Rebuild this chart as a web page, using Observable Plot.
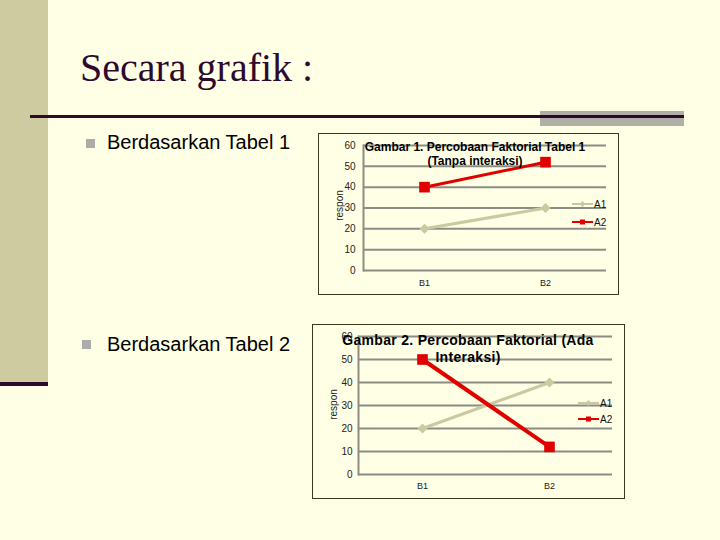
<!DOCTYPE html>
<html>
<head>
<meta charset="utf-8">
<script src="https://cdn.jsdelivr.net/npm/d3@7"></script>
<script src="https://cdn.jsdelivr.net/npm/@observablehq/plot@0.6"></script>
<style>
  html, body { margin: 0; padding: 0; background: #ffffe5; }
  #slide { position: relative; width: 720px; height: 540px; background: #ffffe5; overflow: hidden; font-family: "Liberation Sans", Arial, sans-serif; }
  .abs { position: absolute; }
  .bullet { position: absolute; width: 9px; height: 9px; background: #acacac; }
  .btext { position: absolute; font-size: 20px; color: #000; white-space: nowrap; line-height: 1; }
  .box { position: absolute; border: 1px solid #3a3a1e; box-sizing: border-box; pointer-events: none; }
  .ctitle { position: absolute; font-weight: bold; color: #000; text-align: center; white-space: nowrap; line-height: 1.2; }
  .ylab { position: absolute; font-size: 10px; color: #222; transform: rotate(-90deg); transform-origin: center; white-space: nowrap; }
  .leg { position: absolute; font-size: 10px; color: #111; }
</style>
</head>
<body>
<div id="slide">
  <div class="abs" style="left:0;top:0;width:48px;height:382px;background:#cdcb9f;"></div>
  <div class="abs" style="left:0;top:382px;width:48px;height:4px;background:#2b0a2b;"></div>
  <div class="abs" style="left:80px;top:44px;font-family:'Liberation Serif','Times New Roman',serif;font-size:40px;color:#2d0a2d;white-space:nowrap;line-height:1.2;">Secara grafik :</div>
  <div class="abs" style="left:540px;top:111px;width:144px;height:15px;background:#b0b0a6;"></div>
  <div class="abs" style="left:30px;top:115px;width:654px;height:3px;background:#2b0a2b;"></div>

  <div class="bullet" style="left:86px;top:139px;"></div>
  <div class="btext" style="left:107px;top:132px;">Berdasarkan Tabel 1</div>
  <div class="bullet" style="left:82px;top:340px;"></div>
  <div class="btext" style="left:107px;top:334px;">Berdasarkan Tabel 2</div>

  <div id="chart1" class="abs" style="left:318px;top:133px;"></div>
  <div class="box" style="left:318px;top:133px;width:301px;height:162px;"></div>
  <div class="ctitle" style="left:363px;top:140px;width:224px;font-size:12px;">Gambar 1. Percobaan Faktorial Tabel 1<br>(Tanpa interaksi)</div>
  <div class="ylab" style="left:322px;top:200px;width:34px;text-align:center;">respon</div>
  <div id="leg1" class="abs" style="left:570px;top:196px;"></div>

  <div id="chart2" class="abs" style="left:312px;top:324px;"></div>
  <div class="box" style="left:312px;top:324px;width:313px;height:175px;"></div>
  <div class="ctitle" style="left:338px;top:332px;width:260px;font-size:14px;letter-spacing:0.3px;">Gambar 2. Percobaan Faktorial (Ada<br>Interaksi)</div>
  <div class="ylab" style="left:316px;top:399px;width:34px;text-align:center;">respon</div>
  <div id="leg2" class="abs" style="left:576px;top:395px;"></div>
</div>
<script>
// ---- data ----
const categories = ["B1", "B2"];
const seriesNames = ["A1", "A2"];
const chart1A1 = [20, 30];
const chart1A2 = [40, 52];
const chart2A1 = [20, 40];
const chart2A2 = [50, 12];
const yTicks = [0, 10, 20, 30, 40, 50, 60];

const colorA1 = "#c9c9a2";
const colorA2 = "#e00000";
const gridColor = "#8c8c84";

function rows(name, values) {
  return categories.map((c, i) => ({series: name, cat: c, value: values[i]}));
}

function makeChart(a1, a2, opts) {
  const d1 = rows(seriesNames[0], a1);
  const d2 = rows(seriesNames[1], a2);
  return Plot.plot({
    width: opts.width,
    height: opts.height,
    marginLeft: opts.ml,
    marginRight: opts.mr,
    marginTop: opts.mt,
    marginBottom: opts.mb,
    style: {background: "transparent", fontFamily: "Liberation Sans, Arial, sans-serif", overflow: "visible"},
    x: {type: "point", domain: categories, padding: 0.5, label: null},
    y: {domain: [0, 60], label: null},
    marks: [
      Plot.ruleY(yTicks, {stroke: gridColor, strokeWidth: 2}),
      Plot.frame({anchor: "left", stroke: gridColor, strokeWidth: 2}),
      Plot.axisY({ticks: yTicks, tickSize: 0, tickPadding: opts.yPad, fontSize: 10, fill: "#222", label: null}),
      Plot.axisX({tickSize: 0, tickPadding: opts.xPad, fontSize: 9, fill: "#222", label: null}),
      Plot.line(d1, {x: "cat", y: "value", stroke: colorA1, strokeWidth: 3}),
      Plot.dot(d1, {x: "cat", y: "value", symbol: "diamond2", r: 4.5, fill: colorA1, stroke: "none"}),
      Plot.line(d2, {x: "cat", y: "value", stroke: colorA2, strokeWidth: opts.redWidth}),
      Plot.dot(d2, {x: "cat", y: "value", symbol: "square", r: 6, fill: colorA2, stroke: "none"})
    ]
  });
}

document.getElementById("chart1").appendChild(
  makeChart(chart1A1, chart1A2, {width: 300, height: 161, ml: 45, mr: 12, mt: 12, mb: 24, yPad: 8, xPad: 9, redWidth: 3})
);
document.getElementById("chart2").appendChild(
  makeChart(chart2A1, chart2A2, {width: 312, height: 174, ml: 46, mr: 12, mt: 12, mb: 24, yPad: 6, xPad: 8, redWidth: 4})
);

function legend(el, gap) {
  const ns = "http://www.w3.org/2000/svg";
  const svg = document.createElementNS(ns, "svg");
  svg.setAttribute("width", 40);
  svg.setAttribute("height", 40);
  const items = [
    {name: seriesNames[0], color: colorA1, shape: "diamond"},
    {name: seriesNames[1], color: colorA2, shape: "square"}
  ];
  items.forEach((it, i) => {
    const y = 8 + i * gap;
    const ln = document.createElementNS(ns, "line");
    ln.setAttribute("x1", 2); ln.setAttribute("x2", 23);
    ln.setAttribute("y1", y); ln.setAttribute("y2", y);
    ln.setAttribute("stroke", it.color); ln.setAttribute("stroke-width", 2);
    svg.appendChild(ln);
    const m = document.createElementNS(ns, it.shape === "square" ? "rect" : "path");
    if (it.shape === "square") {
      m.setAttribute("x", 10); m.setAttribute("y", y - 2.5); m.setAttribute("width", 5); m.setAttribute("height", 5);
    } else {
      m.setAttribute("d", `M12.5,${y-3}L15.5,${y}L12.5,${y+3}L9.5,${y}Z`);
    }
    m.setAttribute("fill", it.color);
    svg.appendChild(m);
    const t = document.createElementNS(ns, "text");
    t.setAttribute("x", 24); t.setAttribute("y", y + 3.5);
    t.setAttribute("font-size", 10);
    t.setAttribute("font-family", "Liberation Sans, Arial, sans-serif");
    t.setAttribute("fill", "#111");
    t.textContent = it.name;
    svg.appendChild(t);
  });
  el.appendChild(svg);
}
legend(document.getElementById("leg1"), 18);
legend(document.getElementById("leg2"), 16);
</script>
</body>
</html>
